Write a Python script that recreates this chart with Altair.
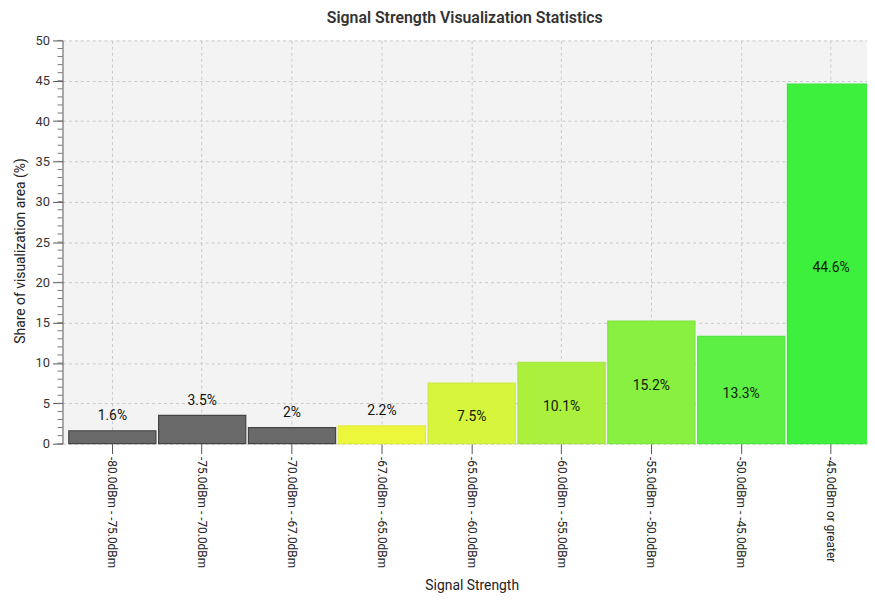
import altair as alt
import pandas as pd

categories = [
    "-80.0dBm - -75.0dBm",
    "-75.0dBm - -70.0dBm",
    "-70.0dBm - -67.0dBm",
    "-67.0dBm - -65.0dBm",
    "-65.0dBm - -60.0dBm",
    "-60.0dBm - -55.0dBm",
    "-55.0dBm - -50.0dBm",
    "-50.0dBm - -45.0dBm",
    "-45.0dBm or greater",
]
values = [1.6, 3.5, 2.0, 2.2, 7.5, 10.1, 15.2, 13.3, 44.6]
labels = ["1.6%", "3.5%", "2%", "2.2%", "7.5%", "10.1%", "15.2%", "13.3%", "44.6%"]
colors = ["#6a6a6a", "#6a6a6a", "#6a6a6a", "#ecf63a", "#d6f53c", "#acf03e",
          "#88f040", "#5cf044", "#3ef03e"]
strokes = ["#444444", "#444444", "#444444", "#e4ec3a", "#cdeb3c", "#a4e43e",
           "#80e440", "#56e444", "#3ae43e"]
y_ticks = [0, 5, 10, 15, 20, 25, 30, 35, 40, 45, 50]
minor_ticks = list(range(0, 51))

df = pd.DataFrame({"cat": categories, "value": values, "label": labels})
minor_df = pd.DataFrame({"m": minor_ticks})

FONT = "Roboto"

x_enc = alt.X(
    "cat:N",
    sort=categories,
    title="Signal Strength",
    scale=alt.Scale(range=[0, 826], paddingInner=0.03, paddingOuter=0.07),
    axis=alt.Axis(
        labelAngle=90,
        labelAlign="left",
        labelBaseline="middle",
        labelPadding=3,
        tickSize=10,
        tickColor="#555555",
        domain=False,
        labelFontSize=12,
        labelColor="#222222",
        titleFontSize=14,
        titleFontWeight="normal",
        titleColor="#222222",
        titlePadding=11,
        grid=True,
        gridDash=[3, 3],
        gridColor="#c8c8c8",
        labelLimit=300,
    ),
)

y_scale = alt.Scale(domain=[0, 50], nice=False)

bars = alt.Chart(df).mark_bar(strokeWidth=1.2).encode(
    x=x_enc,
    y=alt.Y(
        "value:Q",
        scale=y_scale,
        title="Share of visualization area (%)",
        axis=alt.Axis(
            values=y_ticks,
            tickSize=10,
            tickColor="#555555",
            domainColor="#555555",
            labelPadding=3,
            labelFontSize=13,
            labelColor="#333333",
            titleFontSize=14,
            titleFontWeight="normal",
            titleColor="#222222",
            titlePadding=8,
            titleY=212,
            grid=True,
            gridDash=[3, 3],
            gridColor="#c8c8c8",
        ),
    ),
    color=alt.Color("cat:N", scale=alt.Scale(domain=categories, range=colors), legend=None),
    stroke=alt.Stroke("cat:N", scale=alt.Scale(domain=categories, range=strokes), legend=None),
)

minor = alt.Chart(minor_df).mark_rule(color="#777777", strokeWidth=1).encode(
    y=alt.Y("m:Q", scale=y_scale),
    x=alt.value(-5),
    x2=alt.value(0),
)

text_above = alt.Chart(df).transform_filter("datum.value < 5").mark_text(
    dy=-15, fontSize=14, color="#111111", font=FONT
).encode(
    x=alt.X("cat:N", sort=categories),
    y=alt.Y("value:Q", scale=y_scale),
    text="label:N",
)

text_inside = alt.Chart(df).transform_filter("datum.value >= 5").transform_calculate(
    mid="datum.value / 2"
).mark_text(dy=4, fontSize=14, color="#0e2008", font=FONT).encode(
    x=alt.X("cat:N", sort=categories),
    y=alt.Y("mid:Q", scale=y_scale),
    text="label:N",
)

chart = alt.layer(bars, minor, text_above, text_inside).properties(
    width=812,
    height=407,
    title=alt.TitleParams(
        "Signal Strength Visualization Statistics",
        fontSize=16,
        fontWeight=600,
        color="#333333",
        font=FONT,
        offset=9,
    ),
    autosize=alt.AutoSizeParams(type="none"),
    padding={"left": 55, "top": 30, "right": 0, "bottom": 150},
).configure(
    font=FONT,
).configure_view(
    fill="#f3f3f3",
    stroke=None,
)

chart.save("out.html", embed_options={"renderer": "svg", "actions": False})
